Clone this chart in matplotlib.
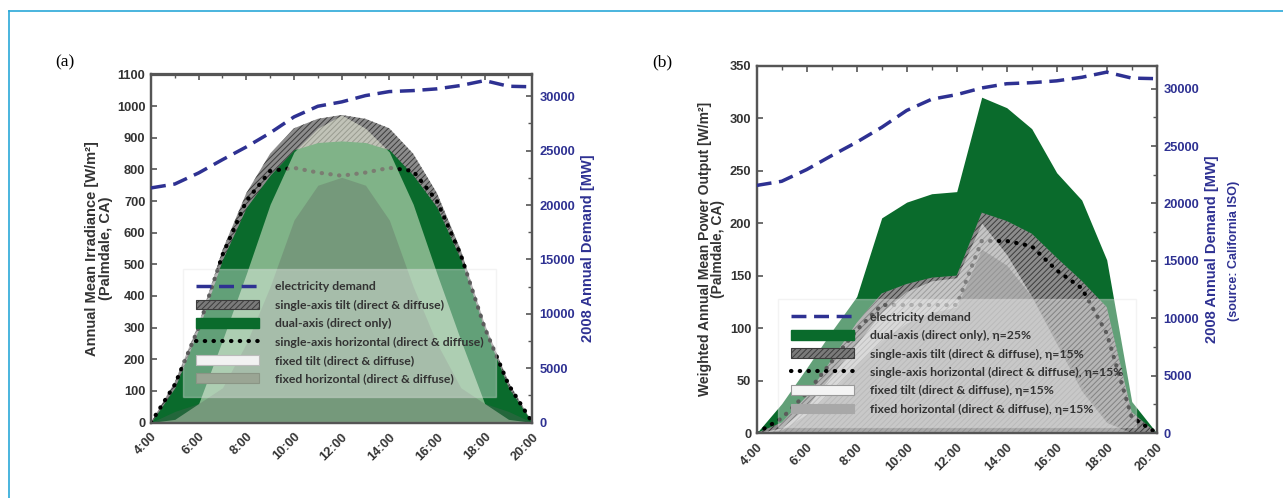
import matplotlib
matplotlib.use("Agg")
import matplotlib.pyplot as plt
from matplotlib.lines import Line2D
from matplotlib.patches import Patch
from matplotlib.ticker import MultipleLocator

plt.rcParams['hatch.linewidth'] = 0.7

# ---------------- data ----------------
hours = list(range(4, 21))
hour_ticks = [4, 6, 8, 10, 12, 14, 16, 18, 20]
hour_labels = ["4:00", "6:00", "8:00", "10:00", "12:00", "14:00", "16:00", "18:00", "20:00"]

demand = [21570, 21930, 22950, 24170, 25340, 26630, 28100, 29080, 29480,
          30060, 30430, 30520, 30680, 30990, 31440, 30920, 30870]

# panel (a): irradiance W/m2
a_tilt    = [0, 128, 312, 545, 725, 850, 930, 960, 972, 960, 930, 850, 725, 545, 312, 128, 0]
a_dual    = [0, 110, 295, 515, 680, 782, 862, 885, 890, 885, 862, 782, 680, 515, 295, 110, 0]
a_horiz   = [0, 120, 300, 530, 700, 795, 805, 790, 780, 790, 805, 795, 700, 530, 300, 120, 0]
a_fixtilt = [0, 10, 60, 260, 470, 690, 855, 930, 972, 930, 855, 690, 470, 260, 60, 10, 0]
a_fixhor  = [0, 35, 60, 110, 250, 430, 640, 750, 775, 750, 640, 430, 250, 110, 60, 35, 0]

# panel (b): weighted power output W/m2
b_dual    = [0, 28, 62, 97, 130, 205, 220, 228, 230, 320, 310, 290, 248, 222, 165, 30, 0]
b_tilt    = [0, 10, 35, 70, 105, 133, 142, 148, 150, 210, 202, 190, 167, 145, 120, 20, 0]
b_horiz   = [0, 14, 38, 68, 98, 122, 122, 122, 122, 183, 183, 178, 155, 138, 95, 15, 0]
b_fixtilt = [0, 5, 25, 55, 85, 115, 135, 145, 148, 200, 170, 130, 85, 40, 10, 0, 0]
b_fixhor  = [0, 3, 18, 40, 65, 88, 105, 115, 120, 175, 160, 130, 90, 45, 12, 0, 0]

labels_a = ["electricity demand",
            "single-axis tilt (direct & diffuse)",
            "dual-axis (direct only)",
            "single-axis horizontal (direct & diffuse)",
            "fixed tilt (direct & diffuse)",
            "fixed horizontal (direct & diffuse)"]
labels_b = ["electricity demand",
            "dual-axis (direct only), η=25%",
            "single-axis tilt (direct & diffuse), η=15%",
            "single-axis horizontal (direct & diffuse), η=15%",
            "fixed tilt (direct & diffuse), η=15%",
            "fixed horizontal (direct & diffuse), η=15%"]

# ---------------- style ----------------
NAVY = '#2e3192'
GREEN = '#0a6b2c'
SPINE = '#555555'
TXT = '#333333'
SANS = ['Liberation Sans', 'DejaVu Sans']
TICKFONT = dict(family=SANS, weight='bold', size=9.3)

fig = plt.figure(figsize=(12.83, 4.98), dpi=100)
fig.patch.set_facecolor('white')

# cyan frame
fig.add_artist(Line2D([9/1283, 1.0], [1-11/498, 1-11/498], transform=fig.transFigure,
                      color='#2aa8d8', lw=1.2))
fig.add_artist(Line2D([9/1283, 9/1283], [0, 1-11/498], transform=fig.transFigure,
                      color='#2aa8d8', lw=1.2))


def make_axes(rect, ymax, ystep):
    ax = fig.add_axes(rect)
    ax.set_xlim(4, 20)
    ax.set_ylim(0, ymax)
    ax.xaxis.set_major_locator(MultipleLocator(2))
    ax.xaxis.set_minor_locator(MultipleLocator(1))
    ax.set_xticks(hour_ticks)
    ax.set_xticklabels(hour_labels, rotation=45, ha='right', rotation_mode='anchor', **TICKFONT)
    ax.yaxis.set_major_locator(MultipleLocator(ystep))
    for lab in ax.get_yticklabels():
        lab.set(**TICKFONT)
    ax.tick_params(axis='both', which='both', direction='in', colors=SPINE,
                   top=True, right=False, labelcolor=TXT)
    ax.tick_params(which='major', length=4, width=1.2)
    ax.tick_params(which='minor', length=3, width=1.0)
    ax.tick_params(axis='x', pad=6)
    ax.tick_params(axis='y', pad=4)
    for s in ax.spines.values():
        s.set_color(SPINE)
        s.set_linewidth(1.6)
    ax2 = ax.twinx()
    ax2.set_ylim(0, 32000)
    ax2.yaxis.set_major_locator(MultipleLocator(5000))
    ax2.yaxis.set_minor_locator(MultipleLocator(2500))
    ax2.tick_params(axis='y', which='both', direction='in', colors=SPINE, labelcolor=NAVY, pad=5)
    ax2.tick_params(which='major', length=4, width=1.2)
    ax2.tick_params(which='minor', length=3, width=1.0)
    ax2.set_yticks(ax2.get_yticks())
    ax2.set_yticklabels([f"{int(v)}" for v in ax2.get_yticks()], **TICKFONT)
    ax2.set_ylim(0, 32000)
    for s in ax2.spines.values():
        s.set_color(SPINE)
        s.set_linewidth(1.6)
    return ax, ax2


dot_style = dict(color='black', lw=3.0, linestyle=(0, (0.1, 2.0)), dash_capstyle='round')
dash_style = dict(color=NAVY, lw=2.5, linestyle=(0, (4.3, 2.2)))
LEGFONT = dict(family=['Lato', 'DejaVu Sans'], weight='bold', size=8.8)
LEGKW = dict(prop=LEGFONT, handlelength=5.2, handleheight=0.85, labelspacing=0.6,
             handletextpad=1.3, borderpad=1.0, borderaxespad=0, frameon=True,
             fancybox=False, framealpha=0.36, facecolor='white', edgecolor='#e0e0e0')

# ---------------- panel (a) ----------------
axa, axa2 = make_axes([151/1283, 1-422.5/498, 381.3/1283, 348/498], 1100, 100)
axa.fill_between(hours, a_tilt, color='#8c8c8c', edgecolor='#3c3c3c', hatch='//////', lw=0, zorder=1)
axa.fill_between(hours, a_dual, color=GREEN, lw=0, zorder=2)
axa.plot(hours, a_horiz, zorder=3, **dot_style)
axa.fill_between(hours, a_fixtilt, color='#f6fbe4', alpha=0.5, lw=0, zorder=4)
axa.fill_between(hours, a_fixhor, color='#5e5e5e', alpha=0.3, lw=0, zorder=5)
axa2.plot(hours, demand, zorder=6, **dash_style)

axa.set_ylabel("Annual Mean Irradiance [W/m²]\n(Palmdale, CA)", color=TXT, labelpad=3,
               family=SANS, weight='bold', size=10.5, linespacing=0.95)
axa2.set_ylabel("2008 Annual Demand [MW]", color=NAVY, labelpad=4,
                family=SANS, weight='bold', size=10.5)

handles_a = [Line2D([], [], **dash_style),
             Patch(facecolor='#7a7a7a', edgecolor='#3c3c3c', hatch='//////', lw=0.8),
             Patch(facecolor=GREEN, edgecolor=GREEN),
             Line2D([], [], **dot_style),
             Patch(facecolor='#f2f2f2', edgecolor='#bbbbbb', lw=0.8),
             Patch(facecolor='#9aa594', edgecolor='#8a9585', lw=0.8)]
leg = axa2.legend(handles_a, labels_a, loc='upper left', bbox_to_anchor=(0.085, 0.441), **LEGKW)
for t in leg.get_texts():
    t.set_color(TXT)

fig.text(55/1283, 1-62/498, "(a)", family=['Liberation Serif', 'DejaVu Serif'], size=12.5,
         va='center', ha='left', color='black')

# ---------------- panel (b) ----------------
axb, axb2 = make_axes([756.7/1283, 1-433/498, 400/1283, 367.3/498], 350, 50)
axb.fill_between(hours, b_dual, color=GREEN, lw=0, zorder=1)
axb.fill_between(hours, b_tilt, color='#8c8c8c', edgecolor='#3c3c3c', hatch='//////', lw=0, zorder=2)
axb.plot(hours, b_horiz, zorder=3, **dot_style)
axb.fill_between(hours, b_fixtilt, color='white', alpha=0.5, lw=0, zorder=4)
axb.fill_between(hours, b_fixhor, color='#8a8a8a', alpha=0.45, lw=0, zorder=5)
axb2.plot(hours, demand, zorder=6, **dash_style)

axb.set_ylabel("Weighted Annual Mean Power Output [W/m²]\n(Palmdale, CA)", color=TXT, labelpad=3,
               family=SANS, weight='bold', size=10, linespacing=0.95)
axb2.set_ylabel("2008 Annual Demand [MW]", color=NAVY, labelpad=4,
                family=SANS, weight='bold', size=10.5)
fig.text(1234/1283, 1-251/498, "(source: California ISO)", rotation=90, color=NAVY,
         family=SANS, weight='bold', size=9.0, ha='center', va='center')

handles_b = [Line2D([], [], **dash_style),
             Patch(facecolor=GREEN, edgecolor=GREEN),
             Patch(facecolor='#7a7a7a', edgecolor='#3c3c3c', hatch='//////', lw=0.8),
             Line2D([], [], **dot_style),
             Patch(facecolor='#f4f4f4', edgecolor='#999999', lw=0.8),
             Patch(facecolor='#a8a8a8', edgecolor='#a8a8a8', lw=0.8)]
legb = axb2.legend(handles_b, labels_b, loc='upper left', bbox_to_anchor=(0.054, 0.364), **LEGKW)
for t in legb.get_texts():
    t.set_color(TXT)

fig.text(652/1283, 1-62/498, "(b)", family=['Liberation Serif', 'DejaVu Serif'], size=12.5,
         va='center', ha='left', color='black')

fig.savefig("out.png", dpi=100)
